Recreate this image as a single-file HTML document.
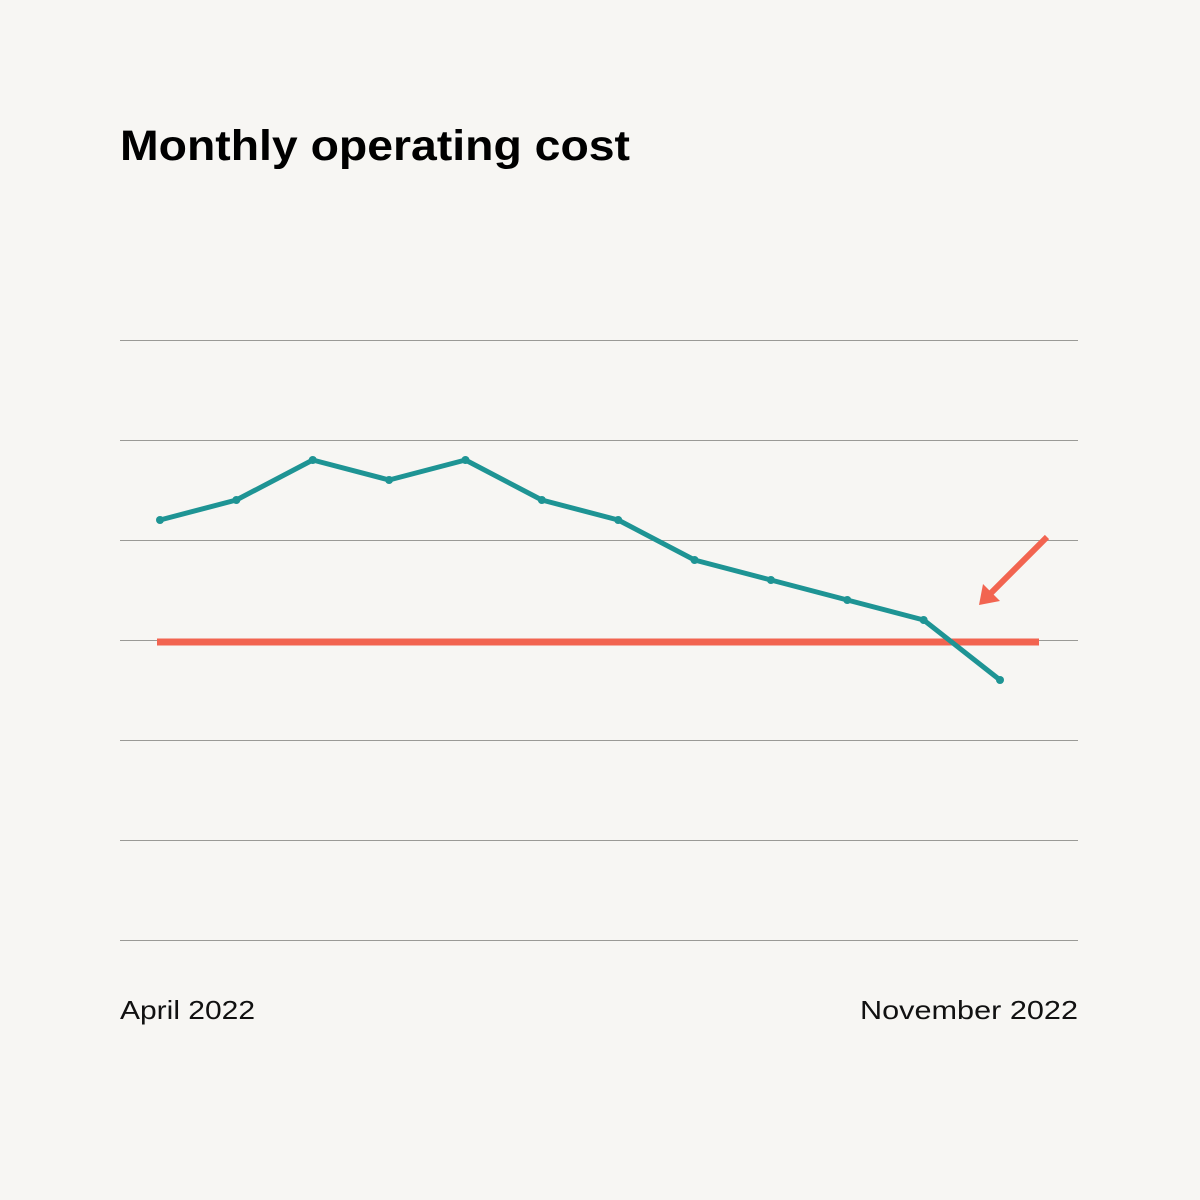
<!DOCTYPE html>
<html><head><meta charset="utf-8"><style>
body{margin:0;background:#f7f6f3;}
svg{display:block;}
</style></head><body>
<svg id="chart" width="1200" height="1200" viewBox="0 0 1200 1200" xmlns="http://www.w3.org/2000/svg">
<rect width="1200" height="1200" fill="#f7f6f3"/>
<text x="120" y="160" font-family="Liberation Sans, sans-serif" font-weight="bold" font-size="43" fill="#000" textLength="510" lengthAdjust="spacingAndGlyphs">Monthly operating cost</text>
<g id="grid"></g>
<g id="marks"></g>
<text x="120" y="1019" font-family="Liberation Sans, sans-serif" font-size="26" fill="#111" textLength="135" lengthAdjust="spacingAndGlyphs">April 2022</text>
<text x="1078" y="1019" text-anchor="end" font-family="Liberation Sans, sans-serif" font-size="26" fill="#111" textLength="218" lengthAdjust="spacingAndGlyphs">November 2022</text>
</svg>
<script>
const months = ["Apr","May","Jun","Jul","Aug","Sep","Oct","Nov","Dec","Jan","Feb","Mar"];
const costValues = [4.2,4.4,4.8,4.6,4.8,4.4,4.2,3.8,3.6,3.4,3.2,2.6];
const targetValue = 2.98;
const gridValues = [0,1,2,3,4,5,6];
const NS="http://www.w3.org/2000/svg";
const yScale = v => 940 - v*100;
const xScale = i => 160 + i*(840/(months.length-1));
function mk(tag, attrs, parent){const e=document.createElementNS(NS,tag);for(const k in attrs)e.setAttribute(k,attrs[k]);parent.appendChild(e);return e;}
const grid=document.getElementById('grid'), marks=document.getElementById('marks');
gridValues.forEach(v=>{
  const l=mk('line',{x1:120,x2:1078,y1:yScale(v)+0.5,y2:yScale(v)+0.5,stroke:'#9a9a96','stroke-width':1},grid);
  
  
});
const t=mk('line',{x1:157,x2:1039,y1:yScale(targetValue),y2:yScale(targetValue),stroke:'#f26450','stroke-width':7},marks);


const pts=costValues.map((v,i)=>xScale(i)+','+yScale(v)).join(' ');
const pl=mk('polyline',{points:pts,fill:'none',stroke:'#1e9494','stroke-width':5,'stroke-linejoin':'round'},marks);


costValues.forEach((v,i)=>{
  const c=mk('circle',{cx:xScale(i),cy:yScale(v),r:4,fill:'#1e9494'},marks);
  
  
});
const a=mk('line',{x1:1047,y1:537,x2:990,y2:594,stroke:'#f26450','stroke-width':6},marks);


const h=mk('polygon',{points:'979,605 983,584 1000,601',fill:'#f26450'},marks);


</script>
</body></html>
